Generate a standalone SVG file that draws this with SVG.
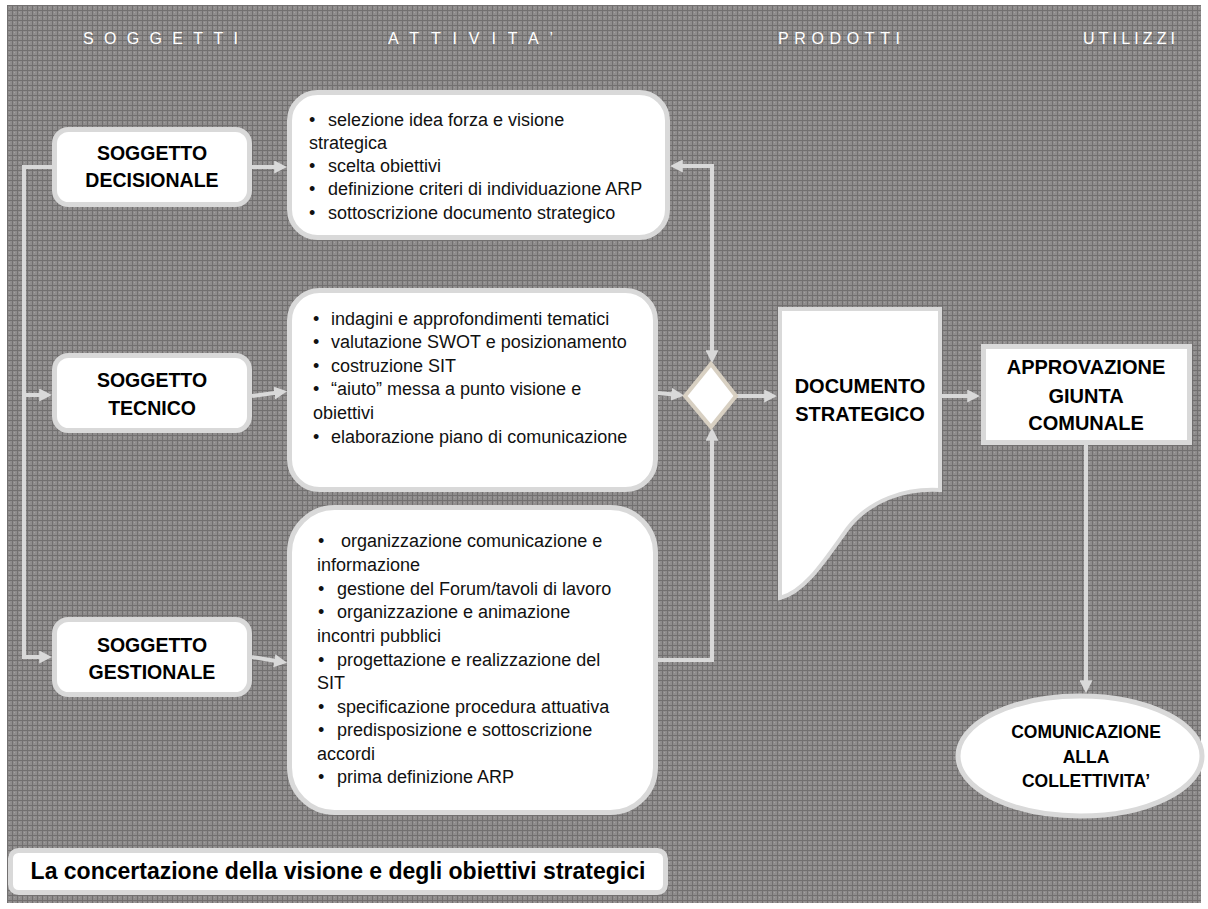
<svg xmlns="http://www.w3.org/2000/svg" width="1208" height="909" viewBox="0 0 1208 909">
  <defs>
    <pattern id="grid" x="7" y="5" width="5" height="5" patternUnits="userSpaceOnUse">
      <rect width="5" height="5" fill="#8f8d8d"/>
      <rect x="0" y="0" width="5" height="1" fill="#727070"/>
      <rect x="0" y="0" width="1" height="5" fill="#727070"/>
      <rect x="2" y="2" width="1" height="1" fill="#a3a1a1"/>
    </pattern>
    <marker id="arrow" viewBox="0 0 10 10" refX="6" refY="5" markerWidth="13" markerHeight="13" markerUnits="userSpaceOnUse" orient="auto-start-reverse">
      <path d="M0,0 L10,5 L0,10 z" fill="#d9d9d9"/>
    </marker>
    <style>
      .hdr { font-family: "Liberation Sans", Arial, sans-serif; font-size: 16px; fill: #ffffff; }
      .box { fill: #ffffff; stroke: #d9d9d9; stroke-width: 5; }
      .title { font-family: "Liberation Sans", Arial, sans-serif; font-weight: bold; fill: #000000; text-anchor: middle; }
      .item { font-family: "Liberation Sans", Arial, sans-serif; font-size: 18px; fill: #111111; }
      .link { fill: none; stroke: #d9d9d9; stroke-width: 4; }
    </style>
  </defs>

  <!-- page background -->
  <rect width="1208" height="909" fill="#ffffff"/>
  <rect x="7" y="5" width="1194" height="898" fill="url(#grid)"/>

  <!-- column headings -->
  <g id="headings">
    <text class="hdr" x="83" y="44" textLength="155" lengthAdjust="spacing">SOGGETTI</text>
    <text class="hdr" x="388" y="44" textLength="165" lengthAdjust="spacing">ATTIVITA’</text>
    <text class="hdr" x="778" y="44" textLength="122" lengthAdjust="spacing">PRODOTTI</text>
    <text class="hdr" x="1083" y="44" textLength="92" lengthAdjust="spacing">UTILIZZI</text>
  </g>

  <!-- connectors -->
  <g id="connectors">
    <path class="link" d="M52,167 H24 V657 H47" marker-end="url(#arrow)"/>
    <path class="link" d="M24,395 H47" marker-end="url(#arrow)"/>
    <path class="link" d="M252,167 H282" marker-end="url(#arrow)"/>
    <path class="link" d="M252,396 L282,392" marker-end="url(#arrow)"/>
    <path class="link" d="M252,657 L282,662" marker-end="url(#arrow)"/>
    <path class="link" d="M675,166 H712 V358" marker-start="url(#arrow)" marker-end="url(#arrow)"/>
    <path class="link" d="M658,393 L679,395" marker-end="url(#arrow)"/>
    <path class="link" d="M658,660 H712 V433" marker-end="url(#arrow)"/>
    <path class="link" d="M737,396 H772" marker-end="url(#arrow)"/>
    <path class="link" d="M942,396 H975" marker-end="url(#arrow)"/>
    <path class="link" d="M1086,445 V688" marker-end="url(#arrow)"/>
  </g>

  <!-- subjects -->
  <g id="soggetto-decisionale">
    <rect class="box" x="54.5" y="129.5" width="195" height="75" rx="14"/>
    <text class="title" font-size="19.5" x="152" y="160">SOGGETTO</text>
    <text class="title" font-size="19.5" x="152" y="187">DECISIONALE</text>
  </g>
  <g id="soggetto-tecnico">
    <rect class="box" x="54.5" y="355.5" width="195" height="75" rx="14"/>
    <text class="title" font-size="19.5" x="152" y="387">SOGGETTO</text>
    <text class="title" font-size="19.5" x="152" y="415">TECNICO</text>
  </g>
  <g id="soggetto-gestionale">
    <rect class="box" x="54.5" y="619.5" width="195" height="75" rx="14"/>
    <text class="title" font-size="19.5" x="152" y="652">SOGGETTO</text>
    <text class="title" font-size="19.5" x="152" y="679">GESTIONALE</text>
  </g>

  <!-- activities -->
  <g id="attivita-decisionale">
    <rect class="box" x="289.5" y="92.5" width="378" height="145" rx="28"/>
    <text class="item">
      <tspan x="309" y="126">•</tspan><tspan x="328" y="126">selezione idea forza e visione</tspan>
      <tspan x="309" y="149">strategica</tspan>
      <tspan x="309" y="172">•</tspan><tspan x="328" y="172">scelta obiettivi</tspan>
      <tspan x="309" y="195">•</tspan><tspan x="328" y="195">definizione criteri di individuazione ARP</tspan>
      <tspan x="309" y="219">•</tspan><tspan x="328" y="219">sottoscrizione documento strategico</tspan>
    </text>
  </g>
  <g id="attivita-tecnico">
    <rect class="box" x="289.5" y="290.5" width="366" height="199" rx="30"/>
    <text class="item">
      <tspan x="313" y="325">•</tspan><tspan x="331" y="325">indagini e approfondimenti tematici</tspan>
      <tspan x="313" y="348">•</tspan><tspan x="331" y="348">valutazione SWOT e posizionamento</tspan>
      <tspan x="313" y="372">•</tspan><tspan x="331" y="372">costruzione SIT</tspan>
      <tspan x="313" y="395">•</tspan><tspan x="331" y="395">“aiuto” messa a punto visione e</tspan>
      <tspan x="313" y="419">obiettivi</tspan>
      <tspan x="313" y="443">•</tspan><tspan x="331" y="443">elaborazione piano di comunicazione</tspan>
    </text>
  </g>
  <g id="attivita-gestionale">
    <rect class="box" x="289.5" y="507.5" width="366" height="305" rx="45"/>
    <text class="item">
      <tspan x="318" y="547">•</tspan><tspan x="341" y="547">organizzazione comunicazione e</tspan>
      <tspan x="317" y="571">informazione</tspan>
      <tspan x="318" y="595">•</tspan><tspan x="337" y="595">gestione del Forum/tavoli di lavoro</tspan>
      <tspan x="318" y="618">•</tspan><tspan x="337" y="618">organizzazione e animazione</tspan>
      <tspan x="317" y="642">incontri pubblici</tspan>
      <tspan x="318" y="666">•</tspan><tspan x="337" y="666">progettazione e realizzazione del</tspan>
      <tspan x="317" y="689">SIT</tspan>
      <tspan x="318" y="713">•</tspan><tspan x="337" y="713">specificazione procedura attuativa</tspan>
      <tspan x="318" y="736">•</tspan><tspan x="337" y="736">predisposizione e sottoscrizione</tspan>
      <tspan x="317" y="760">accordi</tspan>
      <tspan x="318" y="783">•</tspan><tspan x="337" y="783">prima definizione ARP</tspan>
    </text>
  </g>

  <!-- merge decision -->
  <g id="decisione">
    <polygon points="711,364 736,396 711,427 685,396" fill="#ffffff" stroke="#d8d0c2" stroke-width="4"/>
  </g>

  <!-- product -->
  <g id="documento-strategico">
    <path d="M780,309 H940 V490 C 905,488 870,500 848,528 C 825,560 805,592 780,598 Z" fill="#ffffff" stroke="#d9d9d9" stroke-width="4"/>
    <text class="title" font-size="20" x="860" y="393">DOCUMENTO</text>
    <text class="title" font-size="20" x="860" y="421">STRATEGICO</text>
  </g>

  <!-- uses -->
  <g id="approvazione-giunta">
    <rect x="983.5" y="346.5" width="206" height="96" fill="#ffffff" stroke="#d9d9d9" stroke-width="5"/>
    <text class="title" font-size="20" x="1086" y="374">APPROVAZIONE</text>
    <text class="title" font-size="20" x="1086" y="403">GIUNTA</text>
    <text class="title" font-size="20" x="1086" y="430">COMUNALE</text>
  </g>
  <g id="comunicazione-collettivita">
    <ellipse cx="1080" cy="756" rx="122" ry="60" fill="#ffffff" stroke="#d9d9d9" stroke-width="5"/>
    <text class="title" font-size="17.5" x="1086" y="738">COMUNICAZIONE</text>
    <text class="title" font-size="17.5" x="1086" y="763">ALLA</text>
    <text class="title" font-size="17.5" x="1086" y="787">COLLETTIVITA’</text>
  </g>

  <!-- caption -->
  <g id="didascalia">
    <rect x="10.5" y="850.5" width="655" height="42" rx="8" fill="#ffffff" stroke="#d9d9d9" stroke-width="5"/>
    <text class="title" font-size="23" x="338" y="879">La concertazione della visione e degli obiettivi strategici</text>
  </g>
</svg>
